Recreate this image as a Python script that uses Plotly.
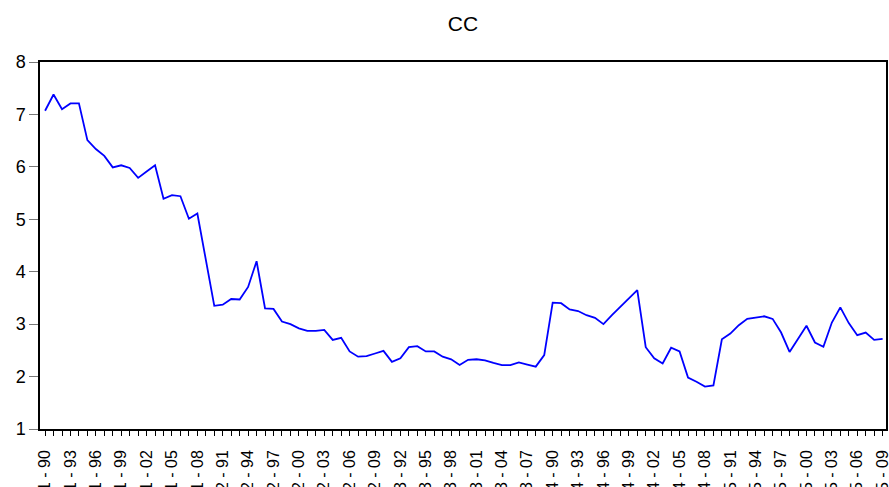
import plotly.graph_objects as go

# Panel: cross-sections 1..5, years 1990..2009
sections = [1, 2, 3, 4, 5]
years = list(range(1990, 2010))

cc_1 = [7.07, 7.38, 7.10, 7.21, 7.21, 6.51, 6.34, 6.21, 5.99, 6.03,
        5.98, 5.79, 5.91, 6.03, 5.39, 5.46, 5.44, 5.01, 5.11, 4.25]
cc_2 = [3.35, 3.37, 3.48, 3.47, 3.71, 4.20, 3.30, 3.29, 3.05, 3.00,
        2.92, 2.87, 2.87, 2.89, 2.70, 2.74, 2.48, 2.38, 2.39, 2.44]
cc_3 = [2.49, 2.28, 2.35, 2.56, 2.58, 2.48, 2.48, 2.38, 2.33, 2.22,
        2.32, 2.33, 2.31, 2.26, 2.22, 2.22, 2.27, 2.23, 2.19, 2.41]
cc_4 = [3.41, 3.40, 3.28, 3.25, 3.17, 3.12, 3.00, 3.17, 3.33, 3.48,
        3.65, 2.56, 2.35, 2.25, 2.55, 2.48, 1.98, 1.90, 1.81, 1.83]
cc_5 = [2.71, 2.82, 2.98, 3.10, 3.13, 3.15, 3.10, 2.84, 2.47, 2.72,
        2.97, 2.65, 2.57, 3.03, 3.32, 3.02, 2.79, 2.84, 2.70, 2.72]

values = cc_1 + cc_2 + cc_3 + cc_4 + cc_5
labels = [f"{s} - {str(y)[2:]}" for s in sections for y in years]
x = list(range(len(values)))

tick_text = [lab if i % 3 == 0 else "" for i, lab in enumerate(labels)]

fig = go.Figure()
fig.add_trace(go.Scatter(x=x, y=values, mode="lines",
                         line=dict(color="#0000FF", width=1.8),
                         hoverinfo="skip", showlegend=False))

fig.update_layout(
    width=889, height=487,
    margin=dict(l=40, r=3, t=62, b=58),
    paper_bgcolor="white", plot_bgcolor="white",
    font=dict(family="Liberation Sans, Arial, sans-serif", color="black", size=17),
    title=dict(text="CC", x=(40 + 886) / 2 / 889, xanchor="center",
               y=1 - 24 / 487, yanchor="middle",
               font=dict(size=21, color="black")),
)

fig.update_xaxes(
    range=[-0.6, 99.4], showgrid=False, zeroline=False,
    showline=True, linecolor="black", linewidth=1.5, mirror=True,
    tickmode="array", tickvals=x, ticktext=tick_text,
    ticks="outside", ticklen=5, tickcolor="black", tickwidth=1,
    tickangle=-90, tickfont=dict(size=16), automargin=False,
    ticklabeloverflow="allow", ticklabelstandoff=8,
)
fig.update_yaxes(
    range=[1, 8], dtick=1, tick0=1, showgrid=False, zeroline=False,
    showline=True, linecolor="black", linewidth=1.5, mirror=True,
    ticks="outside", ticklen=9, tickcolor="#777777", tickwidth=1,
    tickfont=dict(size=18), automargin=False,
)

fig.write_html(
    "out.html",
    config={"displayModeBar": False},
    post_script="document.body.style.margin='0';document.body.style.overflow='hidden';",
)
